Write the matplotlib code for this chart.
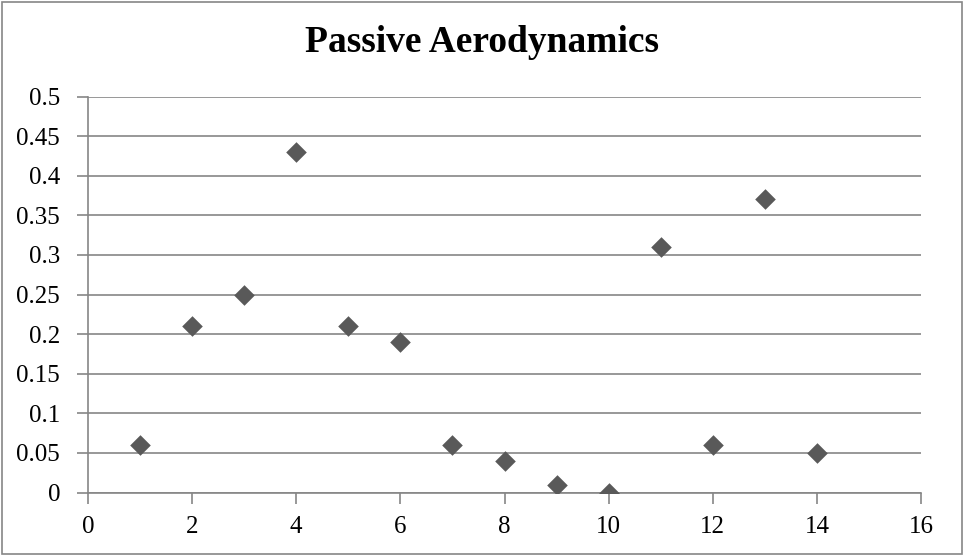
import matplotlib.pyplot as plt
from matplotlib.patches import Rectangle

plt.rcParams['font.family'] = ['Liberation Serif', 'DejaVu Serif']

x_values = [1, 2, 3, 4, 5, 6, 7, 8, 9, 10, 11, 12, 13, 14]
y_values = [0.06, 0.21, 0.25, 0.43, 0.21, 0.19, 0.06, 0.04, 0.01, 0.0, 0.31, 0.06, 0.37, 0.05]
x_ticks = [0, 2, 4, 6, 8, 10, 12, 14, 16]
y_ticks = [0, 0.05, 0.1, 0.15, 0.2, 0.25, 0.3, 0.35, 0.4, 0.45, 0.5]
y_labels = ['0', '0.05', '0.1', '0.15', '0.2', '0.25', '0.3', '0.35', '0.4', '0.45', '0.5']

grey = '#868686'

fig = plt.figure(figsize=(9.64, 5.56), dpi=100)
ax = fig.add_axes([88 / 964, 1 - 492.5 / 556, (921 - 88) / 964, (492.5 - 96.5) / 556])

ax.scatter(x_values, y_values, marker='D', s=110, color='#595959', zorder=3, linewidths=0)

ax.set_xlim(0, 16)
ax.set_ylim(0, 0.5)
ax.set_xticks(x_ticks)
ax.set_yticks(y_ticks)
ax.set_yticklabels(y_labels)
ax.grid(axis='y', color=grey, linewidth=1.2)
ax.set_axisbelow(True)
for side in ['top', 'right']:
    ax.spines[side].set_visible(False)
for side in ['left', 'bottom']:
    ax.spines[side].set_color(grey)
    ax.spines[side].set_linewidth(1.2)
ax.tick_params(axis='both', direction='out', length=8, width=1.2, color=grey,
               labelsize=18, labelcolor='black')
ax.tick_params(axis='y', pad=12)
ax.tick_params(axis='x', pad=9)

fig.text(0.5, 1 - 43 / 556, 'Passive Aerodynamics', ha='center', va='center',
         fontsize=27, fontweight='bold')

fig.patches.append(Rectangle((2 / 964, 2 / 556), 960 / 964, 552 / 556, transform=fig.transFigure,
                             fill=False, edgecolor=grey, linewidth=1.2))

fig.savefig('out.png', dpi=100)
